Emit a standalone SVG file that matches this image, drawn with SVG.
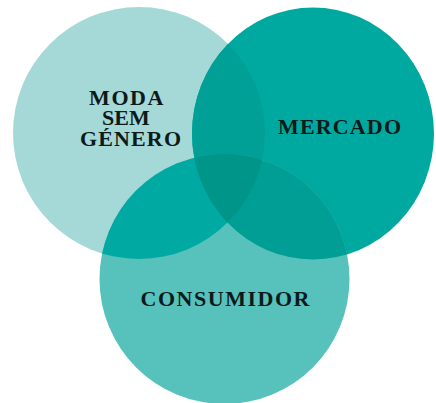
<svg xmlns="http://www.w3.org/2000/svg" width="436" height="403" viewBox="0 0 436 403">
<style>
.lbl{font-family:"Liberation Serif","DejaVu Serif",serif;font-weight:bold;font-size:22px;fill:#0d1a1a;}
</style>
<defs>
<clipPath id="cL"><circle cx="139" cy="133" r="126"/></clipPath>
<clipPath id="cR"><ellipse cx="313" cy="133.5" rx="121" ry="126"/></clipPath>
<clipPath id="cLR"><ellipse cx="313" cy="133.5" rx="121" ry="126" clip-path="url(#cL)"/></clipPath>
</defs>
<rect width="436" height="403" fill="#ffffff"/>
<g id="moda">
<circle cx="139" cy="133" r="126" fill="#a4d9d7"/>
</g>
<g id="mercado">
<ellipse cx="313" cy="133.5" rx="121" ry="126" fill="#00a99f"/>
<ellipse cx="313" cy="133.5" rx="121" ry="126" fill="#00a097" clip-path="url(#cL)"/>
</g>
<g id="consumidor">
<circle cx="224.5" cy="279" r="125" fill="#57c1bc"/>
<circle cx="224.5" cy="279" r="125" fill="#00aaa2" clip-path="url(#cL)"/>
<circle cx="224.5" cy="279" r="125" fill="#009e95" clip-path="url(#cR)"/>
<circle cx="224.5" cy="279" r="125" fill="#009589" clip-path="url(#cLR)"/>
</g>
<g id="labels">
<text class="lbl" x="89" y="105" textLength="74.5" lengthAdjust="spacing">MODA</text>
<text class="lbl" x="102" y="125">SEM</text>
<text class="lbl" x="80" y="145.5" textLength="101" lengthAdjust="spacing">GÉNERO</text>
<text class="lbl" x="278" y="134" textLength="123" lengthAdjust="spacing">MERCADO</text>
<text class="lbl" x="140.5" y="305.5" textLength="169" lengthAdjust="spacing">CONSUMIDOR</text>
</g>
<g id="connectors"></g>
</svg>
